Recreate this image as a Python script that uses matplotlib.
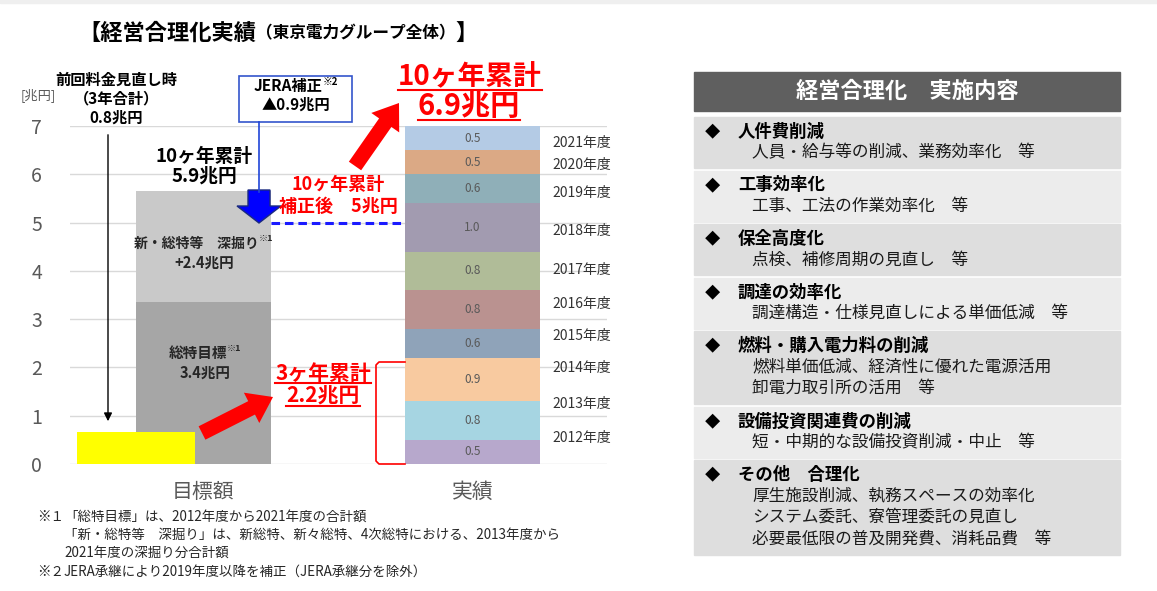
import numpy as np
import matplotlib.pyplot as plt
from matplotlib.patches import Rectangle, FancyArrow

plt.rcParams['font.family'] = ['Noto Sans CJK JP', 'DejaVu Sans']

# ---- data ----
categories = ['目標額', '実績']
prev_review = 0.66              # yellow bar (前回料金見直し時), drawn height
target_parts = [3.35, 2.3]      # 総特目標, 新・総特等 深掘り (drawn heights)
target_colors = ['#a6a6a6', '#c9c9c9']

years = ['2012年度', '2013年度', '2014年度', '2015年度', '2016年度',
         '2017年度', '2018年度', '2019年度', '2020年度', '2021年度']
actual = [0.5, 0.8, 0.9, 0.6, 0.8, 0.8, 1.0, 0.6, 0.5, 0.5]
year_colors = ['#b7a8cc', '#a6d5e2', '#f8caa0', '#8fa3b9', '#ba9290',
               '#b0bc98', '#a29bb0', '#8fafb8', '#dba985', '#b4cbe5']
year_label_y = [0.54, 1.24, 1.99, 2.65, 3.31, 4.02, 4.82, 5.61, 6.19, 6.65]
corrected_total = 5.0

items = [
    ('人件費削減', ['人員・給与等の削減、業務効率化　等']),
    ('工事効率化', ['工事、工法の作業効率化　等']),
    ('保全高度化', ['点検、補修周期の見直し　等']),
    ('調達の効率化', ['調達構造・仕様見直しによる単価低減　等']),
    ('燃料・購入電力料の削減', ['燃料単価低減、経済性に優れた電源活用', '卸電力取引所の活用　等']),
    ('設備投資関連費の削減', ['短・中期的な設備投資削減・中止　等']),
    ('その他　合理化', ['厚生施設削減、執務スペースの効率化',
                   'システム委託、寮管理委託の見直し',
                   '必要最低限の普及開発費、消耗品費　等']),
]
row_colors = ['#dedede', '#ececec']

W, H = 1157, 591
RED = '#ff0000'
fig = plt.figure(figsize=(W / 100, H / 100), dpi=100)

# ---- chart ----
ax = fig.add_axes([70 / W, 1 - 464 / H, 537 / W, 338 / H])
ax.set_xlim(-0.496, 1.5)
ax.set_ylim(0, 7)
bw = 0.5

bottom = 0
for v, c in zip(target_parts, target_colors):
    ax.bar(0, v, bottom=bottom, width=bw, color=c, zorder=2)
    bottom += v
ax.bar(-0.251, prev_review, width=0.439, color='#ffff00', zorder=3)

bottoms = np.concatenate([[0], np.cumsum(actual)[:-1]])
ax.bar(1, actual, bottom=bottoms, width=bw, color=year_colors, zorder=2)
for b, v in zip(bottoms, actual):
    ax.text(1, b + v / 2, f'{v:.1f}', ha='center', va='center', fontsize=8.5,
            color='#595959', zorder=4)
for y, name in zip(year_label_y, years):
    ax.text(1.296, y, name, ha='left', va='center', fontsize=10, color='#333333')

ax.plot([bw / 2, 1 - bw / 2], [corrected_total] * 2, color='#1a1aff', lw=2.2,
        ls=(0, (2.8, 1.6)), zorder=4)

ax.set_yticks(range(8))
ax.tick_params(axis='y', length=0, labelsize=14, labelcolor='#595959', pad=20)
ax.set_xticks([0, 1], categories)
ax.tick_params(axis='x', length=0, labelsize=15, labelcolor='#595959', pad=12)
ax.grid(axis='y', color='#d9d9d9', lw=1)
ax.set_axisbelow(True)
for s in ax.spines.values():
    s.set_visible(False)

# ---- overlay in pixel coords ----
ov = fig.add_axes([0, 0, 1, 1])
ov.set_xlim(0, W)
ov.set_ylim(H, 0)
ov.axis('off')
r = fig.canvas.get_renderer()


def seq(x, y, parts, ha='center', color='black'):
    # parts: (text, size, weight, raise)
    ts = []
    for s, size, weight, up in parts:
        base = y + 0.36 * size * 100 / 72
        t = ov.text(0, base - up, s, fontsize=size, fontweight=weight,
                    color=color, ha='left', va='baseline')
        ts.append(t)
    ws = [t.get_window_extent(r).width for t in ts]
    x0 = x - sum(ws) / 2 if ha == 'center' else x
    for t, w in zip(ts, ws):
        t.set_x(x0)
        x0 += w
    return ts


def underline(t, lw=1.5):
    bb = t.get_window_extent(r)
    yy = H - bb.y0 - 1
    ov.plot([bb.x0, bb.x1], [yy, yy], color=t.get_color(), lw=lw)


ov.add_patch(Rectangle((0, 0), W, 3, color='#efefef'))

# title
seq(78, 32, [('【経営合理化実績', 16, 'bold', 0),
             ('（東京電力グループ全体）', 12, 'bold', 0),
             ('】', 16, 'bold', 0)], ha='left')

ov.text(38, 95, '[兆円]', fontsize=9.5, color='#595959', ha='center', va='center')

# left annotations
for yy, s in zip([79, 98, 117], ['前回料金見直し時', '（3年合計）', '0.8兆円']):
    seq(116, yy, [(s, 11, 'bold', 0)])
ov.annotate('', xy=(108, 424), xytext=(108, 132),
            arrowprops=dict(arrowstyle='-|>', color='black', lw=1, mutation_scale=12))

seq(204, 155, [('10ヶ年累計', 13.5, 'bold', 0)])
seq(204, 175, [('5.9兆円', 13.5, 'bold', 0)])
seq(204, 243, [('新・総特等　深掘り', 10, 'bold', 0), ('※1', 6.5, 'bold', 5)], color='#262626')
seq(204, 262, [('+2.4兆円', 10.5, 'bold', 0)], color='#262626')
seq(205, 353, [('総特目標', 10.5, 'bold', 0), ('※1', 6.5, 'bold', 5)], color='#262626')
seq(205, 372, [('3.4兆円', 10.5, 'bold', 0)], color='#262626')

# JERA box + blue arrow
ov.add_patch(Rectangle((239, 76), 113, 46, fc='white', ec='#3355cc', lw=1.2))
seq(296, 86, [('JERA補正', 11, 'bold', 0), ('※2', 7, 'bold', 5)])
seq(296, 104, [('▲0.9兆円', 11, 'bold', 0)])
ov.plot([259, 259], [122, 192], color='#2046d8', lw=1.2)
ov.add_patch(FancyArrow(259, 190, 0, 33, width=22, head_width=44, head_length=17,
                        length_includes_head=True, fc='#0000ff', ec='#1a2a80', lw=1))

seq(338, 183, [('10ヶ年累計', 13, 'bold', 0)], color=RED)
seq(338, 205, [('補正後　5兆円', 13, 'bold', 0)], color=RED)

# red arrows
ov.add_patch(FancyArrow(355, 166, 44, -63, width=15, head_width=34, head_length=24,
                        length_includes_head=True, color=RED, lw=0))
ov.add_patch(FancyArrow(202, 433, 71, -36, width=15, head_width=34, head_length=24,
                        length_includes_head=True, color=RED, lw=0))

t1 = seq(470, 75, [('10ヶ年累計', 20, 'bold', 0)], color=RED)[0]
t2 = seq(469, 104, [('6.9兆円', 21, 'bold', 0)], color=RED)[0]
t3 = seq(323, 372, [('3ヶ年累計', 15, 'bold', 0)], color=RED)[0]
t4 = seq(323, 395, [('2.2兆円', 15, 'bold', 0)], color=RED)[0]
for t in (t1, t2, t3, t4):
    underline(t)

ov.plot([405, 379, 376, 376, 379, 405], [362, 362, 365, 461, 464, 464], color=RED, lw=1.2)

# footnotes
fn = dict(fontsize=9.7, color='#262626', va='center')
ov.text(37, 517, '※１', **fn)
ov.text(64, 517, '「総特目標」は、2012年度から2021年度の合計額', **fn)
ov.text(64, 535, '「新・総特等　深掘り」は、新総特、新々総特、4次総特における、2013年度から', **fn)
ov.text(64, 553, '2021年度の深掘り分合計額', **fn)
ov.text(37, 572, '※２', **fn)
ov.text(64, 572, 'JERA承継により2019年度以降を補正（JERA承継分を除外）', **fn)

# right panel
ov.add_patch(Rectangle((694, 72), 426, 39, color='#5f5f5f'))
ov.text(907, 91.5, '経営合理化　実施内容', ha='center', va='center', color='white',
        fontsize=16, fontweight='bold')
top = 117
for i, (head, subs) in enumerate(items):
    h = 51 + 22 * (len(subs) - 1)
    ov.add_patch(Rectangle((694, top), 426, h, color=row_colors[i % 2]))
    ov.text(712, top + 15, '◆', ha='center', va='center', fontsize=11)
    ov.text(738, top + 15, head, ha='left', va='center', fontsize=12.5, fontweight='bold')
    for j, s in enumerate(subs):
        ov.text(752, top + 36 + 21.5 * j, s, ha='left', va='center', fontsize=12,
                color='#1a1a1a')
    top += h + 2.5

fig.savefig('out.png', dpi=100)
